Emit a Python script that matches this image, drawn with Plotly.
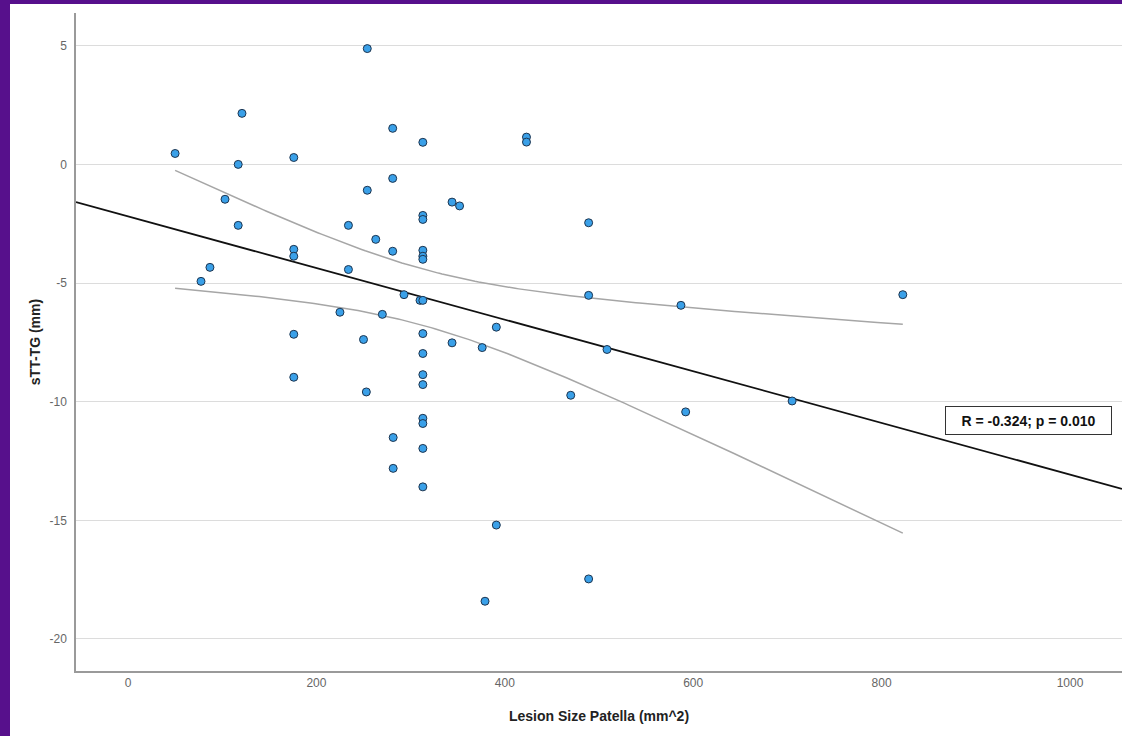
import numpy as np
import plotly.graph_objects as go

# ---- data ----
lesion_size = [50, 121, 117, 103, 117, 87, 77.5, 176, 176, 176, 176, 176,
               254, 254, 281, 281, 313, 234, 263, 281, 313, 313, 313, 313, 313,
               234, 293, 310, 313, 225, 270, 250, 313, 313, 313, 313, 253,
               313, 313, 281.5, 313, 281.5, 313, 391, 489, 379, 470, 344, 352,
               344, 376, 391, 423, 423, 489, 489, 587, 508.5, 592, 705, 822.5]
stt_tg = [0.46, 2.15, 0.0, -1.47, -2.57, -4.34, -4.93, 0.29, -3.58, -3.87, -7.16, -8.97,
          4.88, -1.09, 1.52, -0.59, 0.93, -2.57, -3.16, -3.66, -2.15, -2.32, -3.62, -3.87, -4.0,
          -4.43, -5.49, -5.73, -5.73, -6.23, -6.32, -7.38, -7.13, -7.97, -8.86, -9.28, -9.59,
          -10.7, -10.92, -11.51, -11.97, -12.81, -13.59, -15.2, -17.47, -18.41, -9.73, -1.59, -1.75,
          -7.52, -7.72, -6.86, 1.15, 0.94, -2.46, -5.52, -5.94, -7.8, -10.43, -9.97, -5.49]
x_ticks = [0, 200, 400, 600, 800, 1000]
x_tick_labels = ["0", "200", "400", "600", "800", "1000"]
y_ticks = [5, 0, -5, -10, -15, -20]
y_tick_labels = ["5", "0", "-5", "-10", "-15", "-20"]
stat_label = "R = -0.324; p = 0.010"
x_range = [-55.2, 1055.2]
y_range = [-21.35, 6.38]
t_crit = 2.001  # two-sided 95% t quantile, df = n - 2

# ---- regression fit and 95% CI of the mean ----
x = np.array(lesion_size, dtype=float)
y = np.array(stt_tg, dtype=float)
n = len(x)
slope, intercept = np.polyfit(x, y, 1)
resid = y - (intercept + slope * x)
s = np.sqrt(np.sum(resid ** 2) / (n - 2))
xbar = x.mean()
sxx = np.sum((x - xbar) ** 2)
xc = np.linspace(x.min(), x.max(), 200)
yc = intercept + slope * xc
half = t_crit * s * np.sqrt(1.0 / n + (xc - xbar) ** 2 / sxx)
xl = np.array(x_range)
yl = intercept + slope * xl

fig = go.Figure()
fig.add_trace(go.Scatter(x=xc, y=yc + half, mode="lines",
                         line=dict(color="#a6a6a6", width=1.5), hoverinfo="skip"))
fig.add_trace(go.Scatter(x=xc, y=yc - half, mode="lines",
                         line=dict(color="#a6a6a6", width=1.5), hoverinfo="skip"))
fig.add_trace(go.Scatter(x=xl, y=yl, mode="lines",
                         line=dict(color="#111111", width=1.8), hoverinfo="skip"))
fig.add_trace(go.Scatter(x=lesion_size, y=stt_tg, mode="markers",
                         marker=dict(size=8, color="#3aa0e8",
                                     line=dict(color="#1d3550", width=1))))

L, T, W, H = 76, 13, 1046, 658
def px_x(p):
    return (p - L) / W
def px_y(p):
    return (T + H - p) / H

purple = "#57108c"
fig.add_shape(type="rect", xref="paper", yref="paper",
              x0=px_x(-2), x1=px_x(10), y0=px_y(740), y1=px_y(-2),
              fillcolor=purple, line=dict(width=0), layer="above")
fig.add_shape(type="rect", xref="paper", yref="paper",
              x0=px_x(-2), x1=px_x(1125), y0=px_y(4), y1=px_y(-2),
              fillcolor=purple, line=dict(width=0), layer="above")

fig.add_annotation(text="<b>" + stat_label + "</b>", xref="paper", yref="paper",
                   x=px_x(1028.5), y=px_y(420.5), showarrow=False,
                   xanchor="center", yanchor="middle",
                   width=155, height=17, align="center",
                   font=dict(family="Arial, Liberation Sans", size=14, color="#111111"),
                   bgcolor="white", bordercolor="#333333", borderwidth=1, borderpad=5)

tick_font = dict(family="Liberation Sans Narrow, Arial Narrow, Arial", size=12, color="#666666")
fig.update_layout(
    width=1122, height=736,
    margin=dict(l=L, r=0, t=T, b=736 - T - H, pad=0),
    paper_bgcolor="white", plot_bgcolor="white",
    showlegend=False,
    font=dict(family="Arial, Liberation Sans", color="#555555"),
    xaxis=dict(range=x_range, tickvals=x_ticks, ticktext=x_tick_labels,
               showgrid=False, zeroline=False,
               showline=True, linecolor="#9a9a9a", linewidth=1.5, ticks="",
               tickfont=tick_font,
               title=dict(text="<b>Lesion Size Patella (mm^2)</b>",
                          font=dict(size=14, color="#222222"), standoff=22)),
    yaxis=dict(range=y_range, tickvals=y_ticks, ticktext=y_tick_labels,
               showgrid=True, gridcolor="#dcdcdc",
               gridwidth=1.2, zeroline=False, showline=True, linecolor="#9a9a9a",
               linewidth=1.5, ticks="", ticklabelstandoff=5,
               tickfont=tick_font,
               title=dict(text="<b>sTT-TG (mm)</b>",
                          font=dict(size=14, color="#222222"), standoff=6)),
)
fig.write_html("out.html",
               config={"displayModeBar": False},
               post_script="document.body.style.margin='0';"
                           "document.body.style.padding='0';"
                           "document.documentElement.style.overflow='hidden';")
